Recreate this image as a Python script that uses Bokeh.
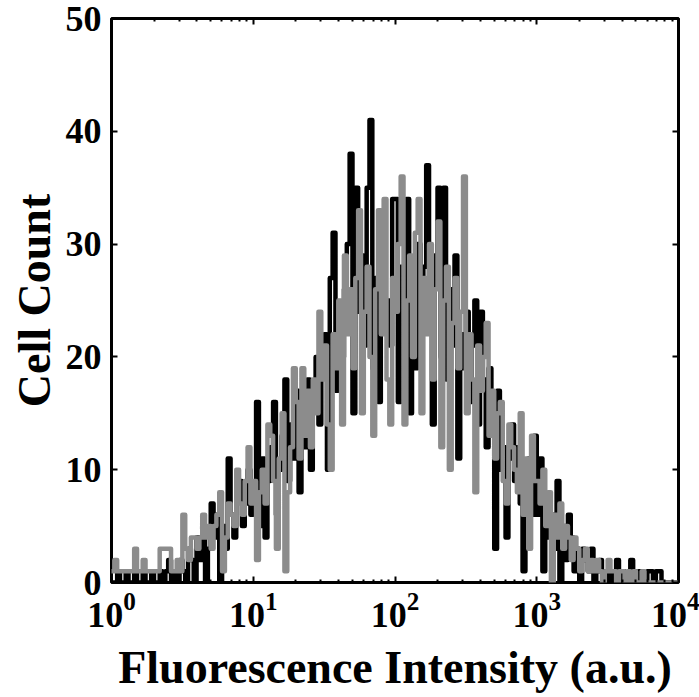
import numpy as np
from bokeh.plotting import figure
from bokeh.models import LinearAxis, LogAxis, FixedTicker, Range1d
from bokeh.embed import file_html
from bokeh.resources import INLINE

# histogram bins: equal width in log10(intensity)
bin_log_start = 0.0
bin_log_step = 0.02

gray_counts = [
    1, 2, 1, 1, 1, 1, 1, 1, 3, 1, 1, 2, 1, 1, 1, 1, 1, 3, 3, 3,
    3, 1, 1, 2, 1, 6, 3, 2, 4, 4, 3, 4, 6, 4, 5, 3, 5, 6, 8, 1,
    4, 7, 6, 5, 10, 7, 6, 9, 12, 7,
    9, 2, 8, 10, 7, 14, 13, 9, 3, 11, 15, 1, 8, 12, 19, 16, 11, 19, 13, 17,
    12, 18, 15, 24, 18, 21, 14, 10, 22, 19, 25, 14, 29, 22, 26, 19, 27, 33, 15, 24,
    28, 20, 13, 26, 33, 22, 34, 18, 14, 27,
    24, 30, 36, 14, 25, 29, 20, 31, 34, 15, 27, 22, 30, 18, 26, 32, 12, 25, 28, 10,
    23, 27, 19, 24, 36, 15, 22, 18, 8, 21, 17, 20, 23, 13, 17, 11, 15, 16, 9, 7,
    14, 12, 10, 8, 15, 6, 11, 3, 13, 9,
    9, 7, 10, 5, 8, 0, 6, 4, 7, 3, 5, 4, 2, 4, 3, 1, 2, 3, 1, 2,
    1, 2, 1, 0, 1, 2, 1, 1, 0, 1, 1, 0, 1, 0, 1, 0, 0, 1, 0, 0,
    0, 0, 0, 0, 0, 0, 0, 0, 0, 0,
]

black_counts = [
    0, 0, 1, 0, 0, 1, 0, 0, 1, 0, 0, 1, 0, 0, 1, 0, 0, 1, 0, 1,
    2, 0, 1, 0, 2, 1, 0, 3, 2, 0, 4, 2, 5, 0, 3, 7, 4, 6, 0, 5,
    3, 11, 6, 4, 8, 9, 5, 7, 10, 6,
    7, 16, 5, 11, 4, 9, 12, 16, 6, 10, 13, 18, 9, 14, 11, 17, 8, 15, 12, 18,
    10, 16, 20, 14, 19, 22, 10, 27, 31, 17, 23, 20, 26, 30, 38, 15, 35, 24, 29, 21,
    35, 41, 19, 27, 16, 30, 23, 25, 21, 34,
    34, 16, 28, 21, 34, 15, 26, 19, 30, 22, 28, 37, 24, 14, 29, 35, 20, 35, 18, 26,
    21, 29, 11, 22, 19, 24, 16, 21, 25, 14, 24, 18, 12, 19, 15, 3, 17, 10, 12, 4,
    11, 14, 9, 12, 7, 1, 9, 11, 6, 13,
    6, 11, 1, 7, 4, 6, 3, 9, 0, 5, 2, 6, 4, 1, 3, 0, 3, 2, 1, 3,
    0, 1, 2, 1, 0, 1, 0, 1, 2, 0, 1, 0, 0, 2, 1, 0, 1, 0, 0, 1,
    1, 0, 1, 1, 0, 0, 0, 0, 0, 0,
]

y_ticks = [0, 10, 20, 30, 40, 50]
x_major = [1, 10, 100, 1000, 10000]
x_minor = [k * 10 ** d for d in range(4) for k in range(2, 10)]

x_label = "Fluorescence Intensity (a.u.)"
y_label = "Cell Count"

FONT = "Liberation Serif"

edges = 10 ** (bin_log_start + bin_log_step * np.arange(len(gray_counts) + 1))


def steps(vals):
    xs = np.repeat(edges, 2)[1:-1]
    ys = np.repeat(np.asarray(vals, dtype=float), 2)
    return xs, ys


p = figure(width=699, height=697, x_axis_type="log",
           x_range=Range1d(1, 1e4), y_range=Range1d(0, 50),
           output_backend="svg", toolbar_location=None,
           min_border_left=111, min_border_right=21,
           min_border_top=18, min_border_bottom=115,
           x_axis_label=x_label, y_axis_label=y_label)

p.grid.visible = False
p.outline_line_color = "black"
p.outline_line_width = 3
p.background_fill_color = "white"
p.border_fill_color = "white"

bx, by = steps(black_counts)
gx, gy = steps(gray_counts)
p.line(bx, by, line_color="black", line_width=4.5, line_join="round", line_cap="round")
p.line(gx, gy, line_color="#8c8c8c", line_width=4.5, line_join="round", line_cap="round")

# bottom / left axes
xa = p.xaxis[0]
ya = p.yaxis[0]
xa.ticker = FixedTicker(ticks=x_major, minor_ticks=x_minor)
ya.ticker = FixedTicker(ticks=y_ticks, minor_ticks=[])

for ax in (xa, ya):
    ax.axis_line_color = None
    ax.major_tick_in = 6
    ax.major_tick_out = 0
    ax.major_tick_line_width = 2
    ax.minor_tick_in = 3
    ax.minor_tick_out = 0
    ax.minor_tick_line_width = 2
    ax.major_label_text_font = FONT
    ax.major_label_text_font_style = "bold"
    ax.major_label_text_font_size = "36px"
    ax.major_label_text_color = "black"
    ax.axis_label_text_font = FONT
    ax.axis_label_text_font_style = "bold"
    ax.axis_label_text_font_size = "46px"
    ax.axis_label_text_color = "black"
ya.minor_tick_line_color = None
ya.major_label_standoff = 10
ya.axis_label_standoff = 3
xa.major_label_standoff = 10
xa.axis_label_standoff = 12

# top / right axes: ticks only
top = LogAxis(ticker=FixedTicker(ticks=x_major, minor_ticks=x_minor))
right = LinearAxis(ticker=FixedTicker(ticks=y_ticks, minor_ticks=[]))
for ax in (top, right):
    ax.axis_line_color = None
    ax.major_tick_in = 6
    ax.major_tick_out = 0
    ax.major_tick_line_width = 2
    ax.minor_tick_in = 3
    ax.minor_tick_out = 0
    ax.minor_tick_line_width = 2
    ax.major_label_text_font_size = "0px"
    ax.major_label_text_alpha = 0
    ax.major_label_standoff = 0
right.minor_tick_line_color = None
p.add_layout(top, "above")
p.add_layout(right, "right")

open("out.html", "w").write(file_html(p, INLINE))
